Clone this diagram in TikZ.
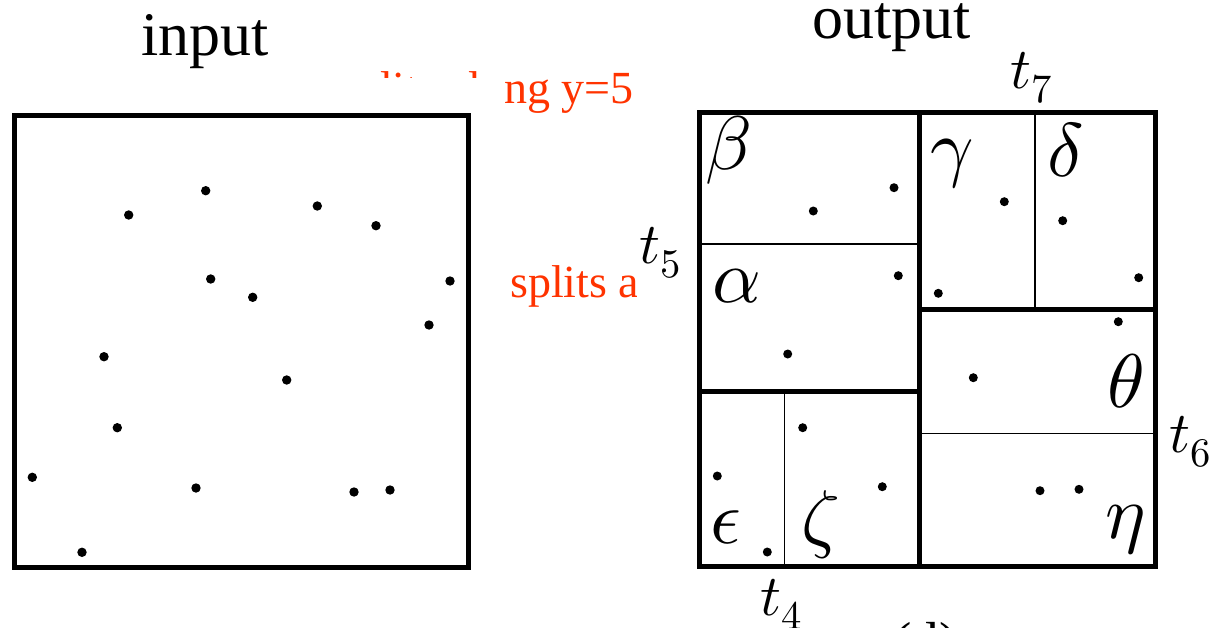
\documentclass[tikz,border=0pt]{standalone}
\usepackage{fontspec}
\usepackage{unicode-math}
\setmainfont{Liberation Serif}
\setmathfont{Latin Modern Math}
\definecolor{redtext}{RGB}{255,51,0}
\tikzset{
  dot/.style={circle,fill=black,inner sep=0pt,minimum size=9.4pt},
  thickbox/.style={line width=5pt},
  thinline/.style={line width=1.6pt},
  titletxt/.style={font=\fontsize{62}{70}\selectfont,inner sep=0pt,anchor=base west},
  redtxt/.style={text=redtext,font=\fontsize{46}{52}\selectfont,inner sep=0pt,anchor=base west},
  greek/.style={font=\fontsize{76}{80}\selectfont,inner sep=0pt,anchor=base},
  tlab/.style={font=\fontsize{58}{64}\selectfont,inner sep=0pt,anchor=base west},
}
\begin{document}
\begin{tikzpicture}[x=1pt,y=-1pt]
\useasboundingbox (0,0) rectangle (1226,627);
\clip (0,0) rectangle (1226,627);

% titles
\node[titletxt] (tin) at (141,55) {input};
\node[titletxt] (tout) at (812,38) {output};
\node[font=\fontsize{55}{60}\selectfont,inner sep=0pt,anchor=base west] (cap) at (893,660) {(d)};

% red annotations, partly hidden
\begin{scope}
  \clip (0,0) rectangle (636,77) (504.5,0) rectangle (636,627);
  \node[redtxt] (r1) at (339,103) {splits along y=5};
\end{scope}
\begin{scope}
  \clip (0,0) rectangle (636,627);
  \node[redtxt] (r2) at (510,297) {splits along};
\end{scope}

% input box
\draw[thickbox] (14.5,115.5) rectangle (468.5,567.5);
\foreach \n/\x/\y in {a/205.7/190.7, b/128.7/215, c/317.3/206, d/376/225.7,
  e/210.7/279, f/252.7/297.3, g/450/281, h/429/325, i/104/356.7, j/286.7/380,
  k/117.3/427.7, l/32.3/477.3, m/196/488, n/354/492, o/390/490, p/82/552.3}
  \node[dot] (in\n) at (\x,\y) {};

% output box
\draw[thinline] (699,244) -- (919,244);
\draw[thinline] (1034.7,112) -- (1034.7,309);
\draw[thinline] (919,433.3) -- (1155.5,433.3);
\draw[thinline] (784.3,391.5) -- (784.3,566);
\draw[thickbox] (919,112) -- (919,566);
\draw[thickbox] (699,391.5) -- (919,391.5);
\draw[thickbox] (919,309) -- (1155.5,309);
\draw[thickbox] (699,112) rectangle (1155.5,566);

\foreach \n/\x/\y in {a/813.3/211, b/894/187.7, c/898.3/275.7, d/787.7/354,
  e/1004.3/201.7, f/1062.7/220.7, g/1138.7/277.7, h/938.3/293.3, i/1118.3/321.7,
  j/973.3/377.7, k/1040/490.7, l/1079/489.3, m/802.7/427.7, n/717.3/476,
  o/882.3/486.7, p/767.3/552}
  \node[dot,minimum size=9pt] (out\n) at (\x,\y) {};

% region labels
\node[greek] (lbeta) at (728.7,169.5) {$\beta$};
\node[greek] (lalpha) at (736.7,302.5) {$\alpha$};
\node[greek] (lgamma) at (951.7,172) {$\gamma$};
\node[greek] (ldelta) at (1065.5,176) {$\delta$};
\node[greek] (ltheta) at (1125.4,407) {$\theta$};
\node[greek] (leta) at (1125.4,538.7) {$\eta$};
\node[greek] (leps) at (726.2,543) {$\epsilon$};
\node[greek] (lzeta) at (820.5,543.5) {$\zeta$};

% split labels
\node[tlab] (t5) at (639,263) {$t_5$};
\node[tlab] (t7) at (1010,88) {$t_7$};
\node[tlab] (t6) at (1169,452) {$t_6$};
\node[tlab] (t4) at (760,615) {$t_4$};
\end{tikzpicture}
\end{document}
